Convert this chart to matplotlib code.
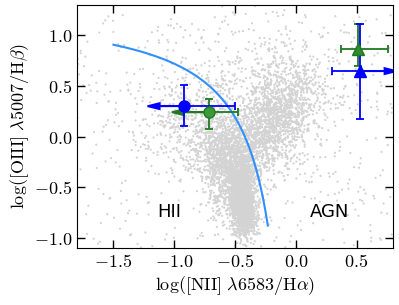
import numpy as np
import matplotlib
matplotlib.use("Agg")
import matplotlib.pyplot as plt
from matplotlib.ticker import FormatStrFormatter, MultipleLocator

plt.rcParams['mathtext.fontset'] = 'cm'
plt.rcParams['font.family'] = 'serif'
plt.rcParams['font.serif'] = ['DejaVu Serif']

# background galaxy sample: blobs (x, y, sx, sy, n)
cloud_x = [-0.45, -0.42, -0.60, -0.85, -0.15, 0.00, -0.30, -0.35, -0.55]
cloud_y = [-0.50, -0.80, -0.15, 0.15, 0.22, 0.45, -0.05, 0.30, -0.45]
cloud_sx = [0.06, 0.05, 0.12, 0.25, 0.12, 0.18, 0.12, 0.40, 0.10]
cloud_sy = [0.18, 0.10, 0.18, 0.25, 0.17, 0.22, 0.18, 0.45, 0.22]
cloud_n = [1300, 600, 700, 400, 650, 350, 550, 650, 400]

# demarcation curve (Kauffmann et al. 2003)
curve_x = np.linspace(-1.5, -0.23, 200)
curve_y = 0.61 / (curve_x - 0.05) + 1.3

# measured points: x, y, x err (lo, hi), y err (lo, hi)
blue_circ = dict(x=-0.92, y=0.30, xlo=0.30, xhi=0.42, ylo=0.20, yhi=0.21)
green_circ = dict(x=-0.71, y=0.24, xlo=0.31, xhi=0.235, ylo=0.17, yhi=0.13)
green_tri = dict(x=0.516, y=0.86, xlo=0.145, xhi=0.246, ylo=0.165, yhi=0.255)
blue_tri = dict(x=0.53, y=0.646, xlo=0.233, xhi=0.30, ylo=0.47, yhi=0.47)

rng = np.random.default_rng(3)
bx, by = [], []
for cx, cy, sx, sy, n in zip(cloud_x, cloud_y, cloud_sx, cloud_sy, cloud_n):
    bx.append(rng.normal(cx, sx, n))
    by.append(rng.normal(cy, sy, n))
bx = np.concatenate(bx)
by = np.concatenate(by)
# sparse scatter everywhere
bx = np.concatenate([bx, rng.uniform(-1.8, 0.8, 450)])
by = np.concatenate([by, rng.uniform(-1.1, 1.2, 450)])

fig = plt.figure(figsize=(3.99, 3.05), dpi=100)
ax = fig.add_axes([0.193, 0.187, 0.792, 0.797])

ax.scatter(bx, by, s=2.5, c='#d3d3d3', edgecolors='none', zorder=1)
ax.plot(curve_x, curve_y, color='#2f8fff', lw=1.5, zorder=2)

def point(p, color, marker, face, left_arrow, right_arrow):
    xerr = [[0 if left_arrow else p['xlo']], [0 if right_arrow else p['xhi']]]
    ax.errorbar([p['x']], [p['y']], xerr=xerr, yerr=[[p['ylo']], [p['yhi']]],
                fmt=marker, color=color, mfc=face, mec=color, ms=8, capsize=3,
                elinewidth=1.3, capthick=1.3, zorder=3)
    if left_arrow:
        ax.arrow(p['x'], p['y'], -p['xlo'] + 0.1, 0, color=color, lw=1.3,
                 head_width=0.06, head_length=0.1, length_includes_head=False,
                 zorder=3)
    if right_arrow:
        ax.arrow(p['x'], p['y'], p['xhi'] - 0.1, 0, color=color, lw=1.3,
                 head_width=0.06, head_length=0.1, length_includes_head=False,
                 zorder=3, clip_on=True)

point(green_circ, '#1f7a1f', 'o', '#3a9a3a', True, False)
point(green_tri, '#1f7a1f', '^', '#2e8b2e', False, False)
point(blue_circ, 'blue', 'o', 'blue', True, False)
point(blue_tri, 'blue', '^', 'blue', False, True)

ax.text(-1.04, -0.74, 'HII', family='DejaVu Sans', fontsize=13, ha='center', va='center')
ax.text(0.28, -0.74, 'AGN', family='DejaVu Sans', fontsize=13, ha='center', va='center')

ax.set_xlim(-1.8, 0.8)
ax.set_ylim(-1.1, 1.3)
ax.xaxis.set_major_locator(MultipleLocator(0.5))
ax.yaxis.set_major_locator(MultipleLocator(0.5))
ax.xaxis.set_major_formatter(FormatStrFormatter(r'$%.1f$'))
ax.yaxis.set_major_formatter(FormatStrFormatter(r'$%.1f$'))
ax.tick_params(direction='in', length=6, width=1, top=True, right=True, labelsize=13)
ax.set_xlabel(r'$\log([\mathrm{NII}]\ \lambda6583/\mathrm{H}\alpha)$', fontsize=13, labelpad=2)
ax.set_ylabel(r'$\log([\mathrm{OIII}]\ \lambda5007/\mathrm{H}\beta)$', fontsize=13, labelpad=2)

fig.savefig('out.png', dpi=100)
